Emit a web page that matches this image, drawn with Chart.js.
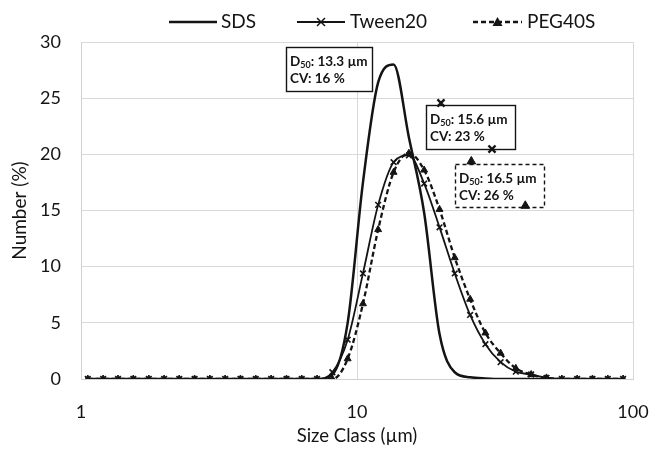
<!DOCTYPE html>
<html><head><meta charset="utf-8">
<script src="https://cdn.jsdelivr.net/npm/chart.js@4/dist/chart.umd.min.js"></script>
<style>html,body{margin:0;padding:0;background:#fff}#wrap{width:652px;height:450px;position:relative}canvas{display:block}</style>
</head><body><div id="wrap"><canvas id="c" width="652" height="450" style="width:652px;height:450px"></canvas></div>
<script>
// ---- data ----
const sizeClasses = [1.058,1.203,1.362,1.547,1.761,2.001,2.270,2.580,2.929,3.328,3.782,4.296,4.885,5.554,6.307,7.165,
  8.143,9.251,10.51,11.93,13.57,15.42,17.51,19.91,22.60,25.70,29.19,33.13,37.62,42.76,48.60,55.24,62.77,71.31,81.03,92.06];
const sdsValues   = [0,0,0,0,0,0,0,0,0,0,0,0,0,0,0,0,
  0.4,5.0,17.5,26.4,28.0,21.5,14.8,4.0,0.6,0.15,0.05,0,0,0,0,0,0,0,0,0];
const tweenValues = [0,0,0,0,0,0,0,0,0,0,0,0,0,0,0,0,
  0.6,3.5,9.4,15.5,19.3,19.9,17.4,13.5,9.4,5.7,3.1,1.5,0.65,0.4,0.1,0,0,0,0,0];
const pegValues   = [0,0,0,0,0,0,0,0,0,0,0,0,0,0,0,0,
  0,1.8,6.7,13.3,18.4,20.1,18.6,15.1,10.8,7.1,4.1,2.3,0.95,0.4,0.1,0,0,0,0,0];
const seriesNames = ['SDS','Tween20','PEG40S'];
const xTickValues = [1,10,100];
const yTickStep = 5;
const noteD50 = ['13.3','15.6','16.5'];
const noteCV  = ['16','23','26'];
const tweenNoteX = [20.15,30.84];
const tweenNoteY = [24.57,20.47];
const pegNoteX = [25.95,40.72];
const pegNoteY = [19.37,15.42];

// ---- annotation box layout (data coordinates) ----
const noteBoxes = [
  {x0:5.544, x1:11.33, y0:29.56, y1:25.6, dashed:false},
  {x0:17.83, x1:37.47, y0:24.42, y1:20.47, dashed:false},
  {x0:22.58, x1:47.71, y0:19.16, y1:15.30, dashed:true}
];

const INK = '#141414';
const toXY = (xs, ys) => xs.map((x,i)=>({x:x, y:ys[i]}));

const notesPlugin = {
  id:'notes',
  beforeDatasetsDraw(chart){
    const {ctx, scales:{x,y}} = chart;
    noteBoxes.forEach((b,i)=>{
      const l = Math.round(x.getPixelForValue(b.x0)), r = Math.round(x.getPixelForValue(b.x1));
      const t = Math.round(y.getPixelForValue(b.y0)), bt = Math.round(y.getPixelForValue(b.y1));
      ctx.save();
      ctx.fillStyle = '#fff'; ctx.fillRect(l,t,r-l,bt-t);
      ctx.strokeStyle = INK; ctx.lineWidth = 1.4;
      ctx.setLineDash(b.dashed ? [4,3] : []);
      ctx.strokeRect(l+0.5,t+0.5,r-l,bt-t);
      ctx.setLineDash([]);
      ctx.fillStyle = INK; ctx.textBaseline = 'middle'; ctx.textAlign = 'left';
      let tx = l + 4;
      const y1 = t + 15, y2 = t + 31.5;
      ctx.font = 'bold 13.5px Lato'; ctx.fillText('D', tx, y1); tx += ctx.measureText('D').width;
      ctx.font = 'bold 9px Lato'; ctx.fillText('50', tx, y1 + 3); tx += ctx.measureText('50').width;
      ctx.font = 'bold 13.5px Lato'; ctx.fillText(': ' + noteD50[i] + ' µm', tx, y1);
      ctx.fillText('CV: ' + noteCV[i] + ' %', l + 4, y2);
      ctx.restore();
    });
  }
};

const legendPlugin = {
  id:'customLegend',
  afterDraw(chart){
    const ctx = chart.ctx;
    const items = [
      {text:seriesNames[0], x0:169, x1:217, tx:221, dash:[], lw:2.5, marker:null},
      {text:seriesNames[1], x0:297, x1:345, tx:350, dash:[], lw:2, marker:'cross'},
      {text:seriesNames[2], x0:473, x1:522, tx:527, dash:[5,3], lw:2.5, marker:'tri'}
    ];
    const ly = 22;
    ctx.save();
    items.forEach(it=>{
      ctx.strokeStyle = INK; ctx.lineWidth = it.lw; ctx.setLineDash(it.dash);
      ctx.beginPath(); ctx.moveTo(it.x0, ly); ctx.lineTo(it.x1, ly); ctx.stroke();
      ctx.setLineDash([]);
      const cx = (it.x0 + it.x1)/2;
      if (it.marker === 'cross'){
        ctx.lineWidth = 1.5; ctx.beginPath();
        ctx.moveTo(cx-4,ly-4); ctx.lineTo(cx+4,ly+4); ctx.moveTo(cx+4,ly-4); ctx.lineTo(cx-4,ly+4); ctx.stroke();
      } else if (it.marker === 'tri'){
        ctx.fillStyle = INK; ctx.beginPath();
        ctx.moveTo(cx,ly-5); ctx.lineTo(cx+5,ly+4); ctx.lineTo(cx-5,ly+4); ctx.closePath(); ctx.fill();
      }
      ctx.fillStyle = INK; ctx.font = '19px Lato'; ctx.textBaseline = 'middle'; ctx.textAlign = 'left';
      ctx.fillText(it.text, it.tx, ly);
    });
    ctx.restore();
  }
};

Chart.defaults.font.family = 'Lato';
Chart.defaults.color = INK;

new Chart(document.getElementById('c'), {
  type:'line',
  data:{
    datasets:[
      {label:seriesNames[2], data:toXY(sizeClasses,pegValues), borderColor:INK, borderWidth:2.3, borderDash:[5,3],
       pointStyle:'triangle', pointRadius:4, pointBackgroundColor:INK, pointBorderColor:INK, pointBorderWidth:1,
       cubicInterpolationMode:'monotone', fill:false},
      {label:seriesNames[1], data:toXY(sizeClasses,tweenValues), borderColor:INK, borderWidth:1.8,
       pointStyle:'crossRot', pointRadius:4, pointBorderColor:INK, pointBorderWidth:1.6,
       cubicInterpolationMode:'monotone', fill:false},
      {label:seriesNames[0], data:toXY(sizeClasses,sdsValues), borderColor:INK, borderWidth:2.5,
       pointRadius:0, cubicInterpolationMode:'monotone', fill:false},
      {label:'tweenNote', data:toXY(tweenNoteX,tweenNoteY), showLine:false, pointStyle:'crossRot',
       pointRadius:5, pointBorderWidth:2.4, pointBorderColor:INK, borderColor:INK},
      {label:'pegNote', data:toXY(pegNoteX,pegNoteY), showLine:false, pointStyle:'triangle',
       pointRadius:5, pointBackgroundColor:INK, pointBorderColor:INK, borderColor:INK}
    ]
  },
  options:{
    responsive:false, animation:false, devicePixelRatio:1,
    layout:{padding:{left:0,right:19,top:42,bottom:0}},
    plugins:{legend:{display:false}, tooltip:{enabled:false}},
    scales:{
      x:{type:'logarithmic', min:1, max:100,
         afterBuildTicks:(s)=>{ s.ticks = xTickValues.map(v=>({value:v})); },
         afterFit:(s)=>{ s.height = 71; s.paddingLeft = 0; s.paddingRight = 0; },
         ticks:{callback:(v)=>String(v), padding:22, font:{size:18}, color:INK, maxRotation:0, autoSkip:false},
         grid:{color:'#d9d9d9', lineWidth:1, drawTicks:false},
         border:{color:'#d0d0d0'},
         title:{display:true, text:'Size Class (µm)', font:{size:18.5}, color:INK, padding:{top:0,bottom:3}}
      },
      y:{min:0, max:30,
         afterFit:(s)=>{ s.width = 81; s.paddingTop = 0; s.paddingBottom = 0; },
         ticks:{stepSize:yTickStep, padding:20, font:{size:18}, color:INK},
         grid:{color:'#d9d9d9', lineWidth:1, drawTicks:false},
         border:{color:'#d0d0d0'},
         title:{display:true, text:'Number (%)', font:{size:19}, color:INK, padding:{top:8.5,bottom:0}}
      }
    }
  },
  plugins:[notesPlugin, legendPlugin]
});
</script></body></html>
